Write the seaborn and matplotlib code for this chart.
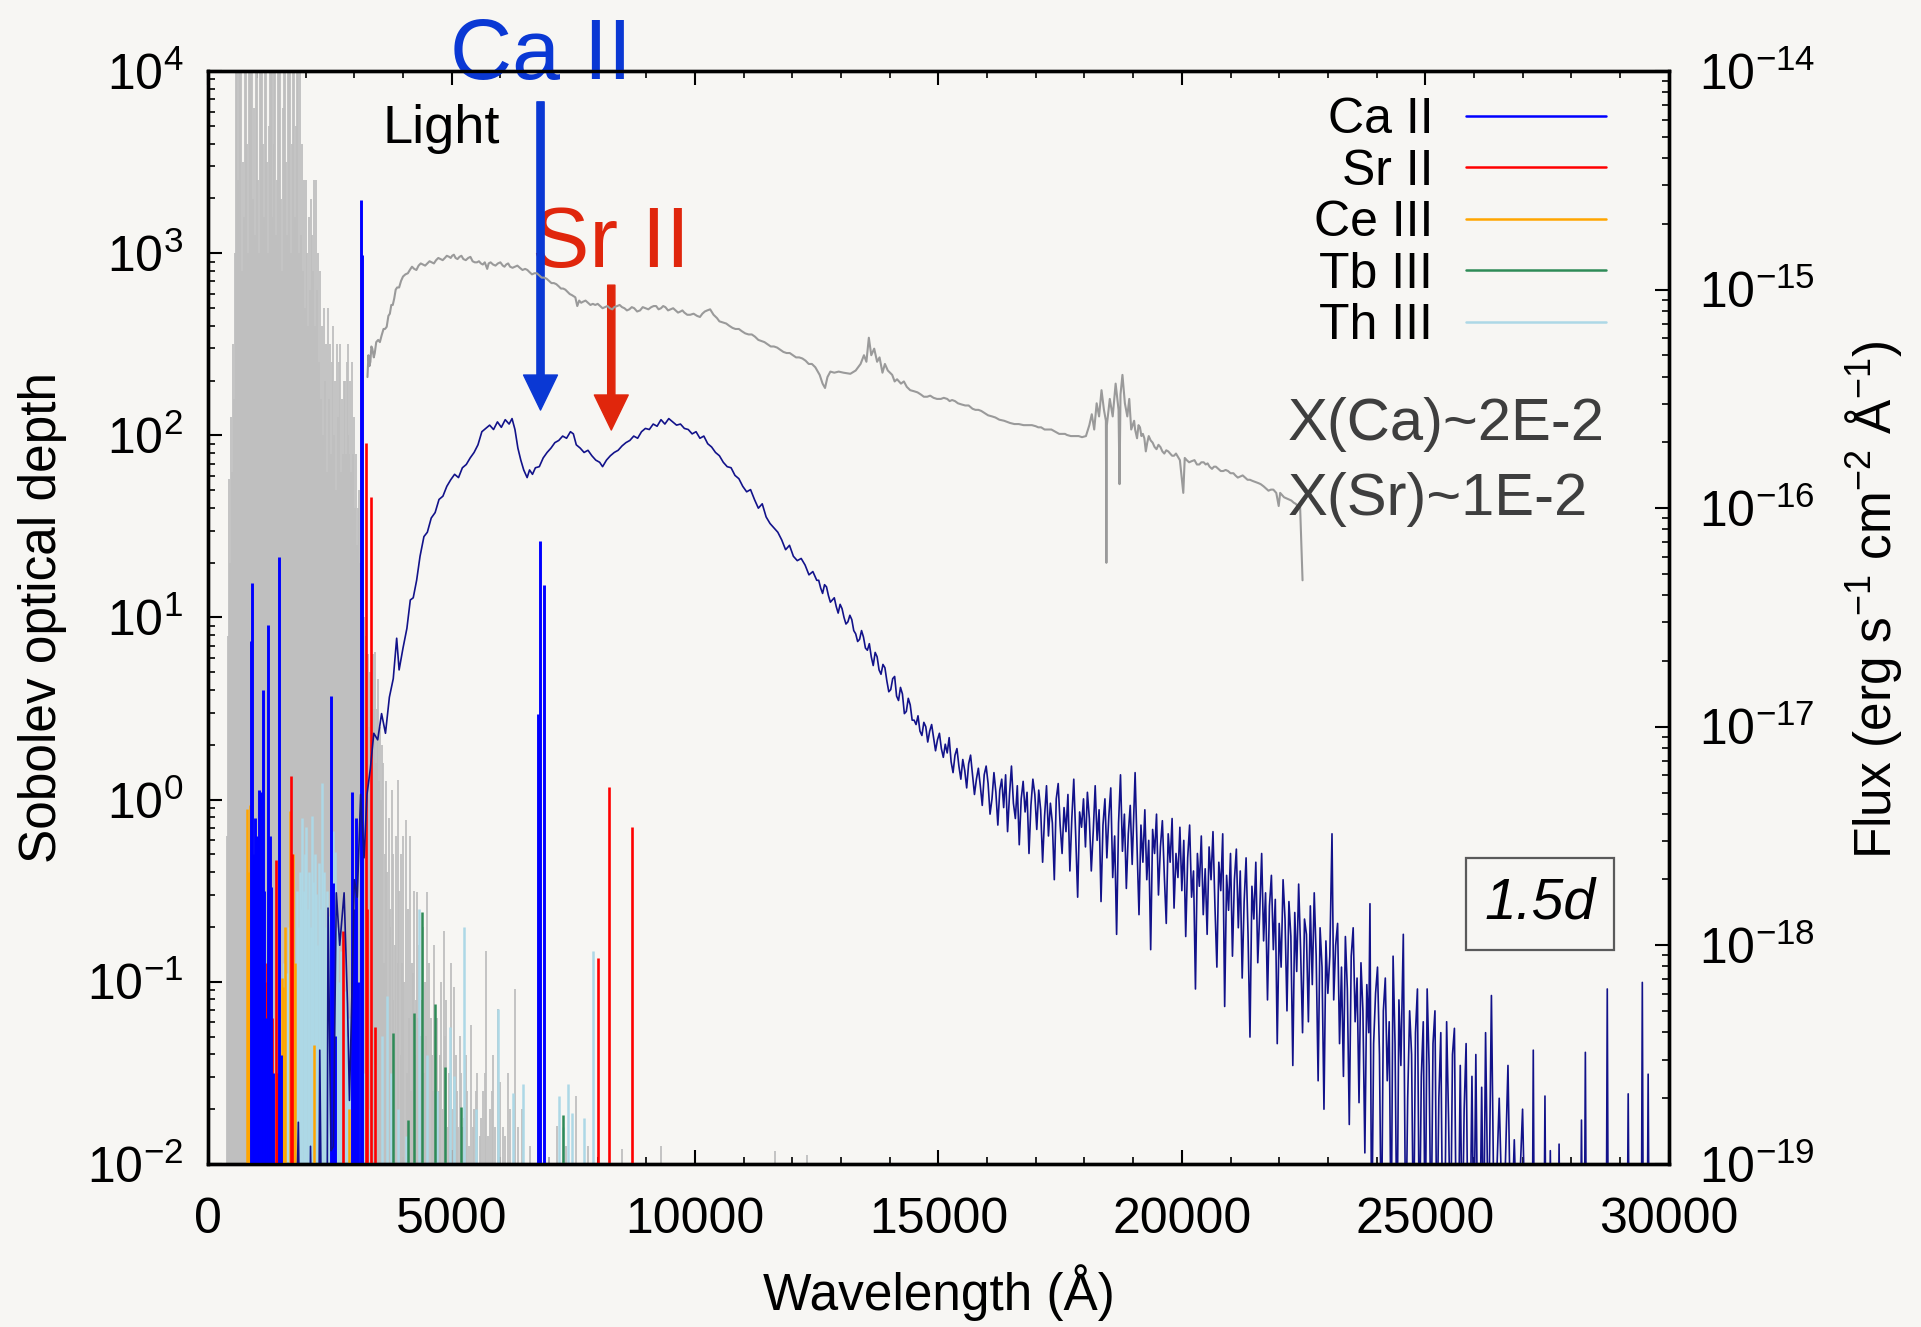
import numpy as np
import pandas as pd
import matplotlib
matplotlib.use("Agg")
import matplotlib.pyplot as plt
import seaborn as sns
from matplotlib.ticker import MultipleLocator, LogLocator, NullFormatter, FixedLocator
from matplotlib.lines import Line2D

# ---------------- data ----------------
# All-line Sobolev optical depths (grey forest): (wavelength [A], log10 tau)
GRAY_LINES = [
    (380, -0.2), (400, 0.9), (420, 1.76), (440, 1.3), (460, 2.1), (480, 1.8), (500, 2.5), (520, 2.2),
    (540, 3.0), (560, 4.5), (580, 4.5), (600, 3.1), (620, 3.4), (640, 4.5), (660, 4.5), (680, 4.5),
    (700, 2.9), (720, 3.5), (740, 3.2), (760, 4.5), (780, 4.5), (800, 3.6), (820, 3.0), (840, 4.5),
    (860, 4.5), (880, 4.5), (900, 4.5), (920, 3.3), (940, 3.8), (960, 3.1), (980, 4.5), (1000, 4.5),
    (1020, 3.4), (1040, 3.0), (1060, 4.5), (1080, 4.5), (1100, 4.5), (1120, 3.6), (1140, 3.2),
    (1160, 4.5), (1180, 4.5), (1200, 3.5), (1220, 3.0), (1240, 3.7), (1260, 4.5), (1280, 4.5),
    (1300, 4.5), (1320, 3.2), (1340, 3.6), (1360, 4.5), (1380, 4.5), (1400, 3.1), (1420, 3.4),
    (1440, 4.5), (1460, 4.5), (1480, 4.5), (1500, 3.3), (1520, 2.9), (1540, 3.8), (1560, 4.5),
    (1580, 4.5), (1600, 3.5), (1620, 3.1), (1640, 4.5), (1660, 4.5), (1680, 4.5), (1700, 3.0),
    (1720, 3.6), (1740, 4.5), (1760, 4.5), (1780, 3.2), (1800, 3.7), (1820, 4.5), (1840, 4.5),
    (1860, 3.0), (1880, 4.3), (1900, 3.1), (1920, 3.6), (1940, 2.9), (1960, 3.4), (1980, 2.7),
    (2000, 3.4), (2020, 3.0), (2040, 2.6), (2060, 3.2), (2080, 2.8), (2100, 3.3), (2120, 2.5),
    (2140, 3.1), (2160, 2.9), (2180, 3.4), (2200, 2.6), (2220, 3.4), (2240, 2.8), (2260, 3.0),
    (2280, 2.4), (2300, 2.9), (2320, 2.2), (2340, 2.6), (2360, 2.0), (2380, 2.7), (2400, 2.3),
    (2420, 2.5), (2440, 1.8), (2460, 2.7), (2480, 2.2), (2500, 2.5), (2520, 1.9), (2540, 2.4),
    (2560, 2.6), (2580, 2.0), (2600, 2.3), (2620, 1.7), (2640, 2.5), (2660, 2.1), (2680, 2.4),
    (2700, 2.5), (2720, 1.8), (2740, 2.2), (2760, 1.9), (2780, 2.3), (2800, 2.3), (2820, 1.9),
    (2840, 2.4), (2860, 2.0), (2880, 2.5), (2900, 1.9), (2920, 2.3), (2940, 1.8), (2960, 2.4),
    (2980, 1.9), (3000, 2.1), (3020, 1.6), (3040, 1.9), (3060, 1.4), (3080, 1.6), (3100, 1.7),
    (3120, 1.3), (3140, 1.1), (3160, 1.3), (3180, 0.8), (3200, 1.0), (3220, 0.6), (3240, 0.9),
    (3260, 0.5), (3280, 0.8), (3300, 0.4), (3320, 0.7), (3340, 0.3), (3360, 0.6), (3380, 0.8),
    (3400, 0.5), (3420, 0.81), (3440, 0.2), (3460, 0.5), (3480, 0.66), (3500, 0.1), (3520, 0.4),
    (3540, 0.0), (3560, 0.3), (3590, 0.2), (3620, -0.3), (3650, 0.1), (3680, -0.4), (3710, -0.1),
    (3740, -0.6), (3770, 0.05), (3800, -0.3), (3830, -0.8), (3860, -0.2), (3890, 0.11),
    (3920, -0.5), (3950, -0.3), (3980, -0.9), (4010, -0.2), (4060, -0.11), (4100, -0.6),
    (4140, -0.2), (4180, -0.9), (4220, -0.5), (4260, -1.1), (4290, -0.51), (4330, -0.8),
    (4370, -1.3), (4410, -0.7), (4450, -1.0), (4500, -0.51), (4540, -0.9), (4590, -1.4),
    (4640, -0.8), (4690, -1.2), (4740, -1.6), (4790, -1.0), (4840, -0.72), (4890, -1.1),
    (4940, -1.5), (4990, -0.9), (5050, -1.03), (5110, -1.6), (5170, -1.3), (5230, -1.8),
    (5290, -1.4), (5350, -1.9), (5400, -1.24), (5460, -1.7), (5520, -1.5), (5580, -1.85),
    (5640, -1.6), (5710, -0.83), (5780, -1.7), (5850, -1.4), (5950, -1.15), (6050, -1.8),
    (6150, -1.5), (6300, -1.04), (6450, -1.7), (6600, -1.9), (6800, -1.85), (7000, -1.96),
    (7170, -1.79), (7350, -1.9), (7560, -1.63), (7800, -1.9), (8500, -1.92), (9300, -1.9),
    (11650, -1.93), (12300, -1.95),
    (3515, -0.8), (3605, -0.9), (3665, -1.2), (3725, -0.7), (3785, -1.1), (3845, -1.3), (3905, -0.9),
    (3965, -1.4), (4030, -1.0), (4080, -1.5), (4120, -1.2), (4160, -1.6), (4200, -0.95), (4240, -1.4),
    (4310, -1.2), (4350, -1.6), (4390, -1.1), (4430, -1.5), (4470, -1.3), (4520, -1.7), (4565, -1.2),
    (4615, -1.6), (4665, -1.3), (4715, -1.8), (4765, -1.4), (4815, -1.7), (4865, -1.3), (4915, -1.8),
    (4965, -1.5), (5020, -1.7), (5080, -1.4), (5140, -1.8), (5200, -1.5), (5260, -1.75), (5320, -1.6),
    (5430, -1.8), (5490, -1.6), (5610, -1.75), (5680, -1.5), (5750, -1.85), (5820, -1.6), (5900, -1.8),
    (6000, -1.55), (6100, -1.85), (6200, -1.7), (6370, -1.8),
]

# Ion lines: (wavelength [A], log10 tau)
CA_II = [
    (885, 0.87), (900, 1.19), (940, -0.3), (960, -0.1), (985, -0.25), (1010, -0.2), (1040, 0.05),
    (1060, -0.15), (1090, 0.04), (1120, 0.6), (1150, -0.5), (1180, -1.2), (1230, 0.96),
    (1260, -0.2), (1290, -0.48), (1320, -1.5), (1460, 1.33), (1490, -1.4), (2530, 0.57),
    (2560, -0.46), (2600, -1.3), (2960, 0.04), (3000, -0.6), (3040, -0.10), (3080, -1.0),
    (3130, 3.29), (3155, 2.99), (6780, 0.47), (6815, 1.42), (6900, 1.18),
]
SR_II = [
    (1130, -1.44), (1160, -1.0), (1200, -0.9), (1240, -1.3), (1270, -0.66), (1300, -1.2),
    (1390, -0.33), (1420, -1.5), (1700, 0.13), (1720, -0.3), (2770, -0.72), (3230, 1.96),
    (3260, -0.6), (3345, 1.66), (3420, -1.25), (8000, -0.87), (8230, 0.07), (8700, -0.15),
]
CE_III = [
    (800, -0.05), (820, -0.8), (840, -0.4), (860, -0.03), (880, -1.2), (1510, -0.98),
    (1540, -1.03), (1570, -0.7), (1680, -0.06), (1710, -0.5), (1750, -0.3), (1780, -0.9),
    (2180, -1.35), (2900, -1.7),
]
TB_III = [
    (3800, -1.28), (4100, -1.76), (4230, -1.17), (4390, -0.62), (4660, -1.12), (4860, -1.47),
    (5200, -1.69), (7290, -1.73),
]
TH_III = [
    (940, -1.5), (980, -1.8), (1010, -1.3), (1060, -1.7), (1180, -1.4), (1300, -1.6), (1400, -1.7),
    (1450, -1.81), (1500, -1.2), (1560, -0.9), (1600, -1.1), (1620, -0.95), (1650, -0.7),
    (1680, -1.0), (1720, -0.85), (1750, -0.6), (1780, -0.9), (1820, -0.5), (1850, -0.7),
    (1880, -0.4), (1910, -0.6), (1930, -0.10), (1960, -0.5), (1990, -0.3), (2010, -0.15),
    (2040, -0.6), (2070, -0.4), (2100, -0.7), (2130, -0.09), (2160, -0.45), (2190, -0.3),
    (2210, -0.52), (2240, -0.8), (2270, -0.35), (2300, -0.6), (2340, 0.09), (2370, -0.4),
    (2400, -0.7), (2430, -0.5), (2460, -0.64), (2490, -0.9), (2520, -0.6), (2570, -0.17),
    (2610, -0.29), (2650, -0.7), (2690, -1.0), (2730, -0.83), (2770, -1.1), (2810, -1.05),
    (2850, -1.3), (2900, -1.2), (2950, -1.5), (3000, -1.4), (3100, -1.6), (3200, -1.5),
    (3300, -1.7), (3420, -1.45), (3560, -1.3), (3680, -1.08), (3760, -1.5), (3900, -1.7),
    (4060, -1.85), (4330, -0.60), (4500, -1.4), (4700, -1.6), (4970, -1.25), (5050, -1.52),
    (5250, -0.70), (5500, -1.7), (5950, -1.15), (6270, -1.61), (6460, -1.56), (7210, -1.63),
    (7290, -1.8), (7390, -1.56), (7470, -1.72), (7720, -1.75), (7910, -0.83),
]

# Model spectrum (navy): (wavelength [A], log10 flux) -- blue/optical part
MODEL_SPEC = [
    (1800, -19.4), (1850, -18.81), (1880, -19.4), (2080, -19.4), (2100, -18.92), (2130, -19.4),
    (2270, -19.4), (2290, -18.48), (2330, -19.4), (2440, -19.4), (2460, -17.83), (2520, -18.94),
    (2570, -18.92), (2630, -17.76), (2700, -18.00), (2790, -17.76), (2860, -18.27), (2900, -18.71),
    (2960, -18.13), (3000, -17.70), (3060, -17.78), (3130, -17.31), (3200, -17.60), (3260, -17.31),
    (3330, -17.19), (3400, -17.03), (3480, -17.06), (3560, -16.94), (3640, -17.03), (3720, -16.865),
    (3800, -16.78), (3870, -16.595), (3920, -16.74), (4000, -16.64), (4080, -16.55), (4150, -16.42),
    (4210, -16.41), (4280, -16.33), (4350, -16.22), (4430, -16.13), (4500, -16.11), (4580, -16.045),
    (4660, -16.02), (4740, -15.96), (4820, -15.945), (4900, -15.90), (4980, -15.87), (5060, -15.845),
    (5140, -15.86), (5220, -15.815), (5300, -15.80), (5380, -15.77), (5460, -15.745), (5540, -15.71),
    (5620, -15.65), (5700, -15.635), (5780, -15.62), (5860, -15.64), (5940, -15.605), (6020, -15.63),
    (6100, -15.595), (6180, -15.615), (6240, -15.59), (6300, -15.64), (6360, -15.725), (6420, -15.78),
    (6480, -15.825), (6550, -15.86), (6600, -15.825), (6660, -15.845), (6720, -15.815), (6800, -15.81),
    (6880, -15.77), (6960, -15.745), (7040, -15.725), (7120, -15.70), (7200, -15.69), (7280, -15.67),
    (7360, -15.68), (7440, -15.65), (7500, -15.66), (7560, -15.71), (7640, -15.725), (7720, -15.745),
    (7800, -15.735), (7880, -15.76), (7960, -15.78), (8040, -15.79), (8100, -15.81), (8180, -15.78),
    (8260, -15.76), (8340, -15.745), (8420, -15.735), (8500, -15.715), (8580, -15.70), (8660, -15.69),
    (8740, -15.67), (8820, -15.68), (8900, -15.65), (8980, -15.635), (9060, -15.64), (9140, -15.615),
    (9220, -15.625), (9300, -15.595), (9380, -15.615), (9460, -15.59), (9540, -15.605), (9620, -15.62),
    (9700, -15.615), (9780, -15.635), (9860, -15.64), (9940, -15.66), (10020, -15.65), (10100, -15.68),
    (10180, -15.67), (10260, -15.705), (10340, -15.72), (10420, -15.745), (10500, -15.76),
    (10580, -15.79), (10660, -15.81), (10740, -15.815), (10820, -15.85), (10900, -15.865),
    (10980, -15.90), (11060, -15.925), (11140, -15.915), (11220, -15.96), (11300, -16.00),
    (11380, -15.98), (11460, -16.04), (11540, -16.07), (11620, -16.09), (11700, -16.11),
    (11780, -16.145), (11860, -16.19), (11940, -16.17), (12020, -16.22), (12100, -16.24),
    (12180, -16.23), (12260, -16.26), (12340, -16.305), (12420, -16.29), (12500, -16.33),
    (12540, -16.33), (12580, -16.365), (12620, -16.39), (12660, -16.35), (12700, -16.36),
    (12740, -16.40), (12780, -16.43), (12820, -16.42), (12860, -16.41), (12900, -16.45),
    (12940, -16.48), (12980, -16.44), (13020, -16.46), (13060, -16.50), (13100, -16.53),
    (13140, -16.52), (13180, -16.49), (13220, -16.51), (13260, -16.56), (13300, -16.575),
    (13340, -16.61), (13380, -16.60), (13420, -16.56), (13460, -16.59), (13500, -16.64),
    (13540, -16.65), (13580, -16.62), (13620, -16.68), (13660, -16.72), (13700, -16.66),
    (13740, -16.68), (13780, -16.74), (13820, -16.76), (13860, -16.715), (13900, -16.73),
    (13940, -16.79), (13980, -16.84), (14020, -16.83), (14060, -16.78), (14100, -16.77),
    (14140, -16.86), (14180, -16.88), (14220, -16.82), (14260, -16.85), (14300, -16.94),
    (14340, -16.93), (14380, -16.87), (14420, -16.90), (14460, -16.97),
]
# Model spectrum, noisy near-infrared part (densely sampled)
MODEL_SPEC_NIR = [
    (14500, -16.97), (14540, -16.99), (14580, -16.95), (14620, -17.02), (14660, -17.04),
    (14700, -16.98), (14740, -17.00), (14780, -17.07), (14820, -17.02), (14860, -16.99),
    (14900, -17.05), (14940, -17.11), (14980, -17.06), (15020, -17.03), (15060, -17.10),
    (15100, -17.14), (15140, -17.08), (15180, -17.12), (15220, -17.05), (15260, -17.16),
    (15300, -17.21), (15340, -17.13), (15380, -17.10), (15420, -17.18), (15460, -17.24),
    (15500, -17.15), (15540, -17.20), (15580, -17.28), (15620, -17.17), (15660, -17.13),
    (15700, -17.22), (15740, -17.31), (15780, -17.24), (15820, -17.19), (15860, -17.27),
    (15900, -17.36), (15940, -17.22), (15980, -17.18), (16020, -17.26), (16060, -17.40),
    (16100, -17.33), (16140, -17.21), (16180, -17.30), (16220, -17.45), (16260, -17.29),
    (16300, -17.24), (16340, -17.37), (16380, -17.22), (16420, -17.48), (16460, -17.31),
    (16500, -17.18), (16540, -17.35), (16580, -17.42), (16620, -17.27), (16660, -17.54),
    (16700, -17.33), (16740, -17.25), (16780, -17.39), (16820, -17.30), (16860, -17.58),
    (16900, -17.36), (16940, -17.24), (16980, -17.31), (17020, -17.47), (17060, -17.29),
    (17100, -17.38), (17140, -17.62), (17180, -17.41), (17220, -17.27), (17260, -17.50),
    (17300, -17.35), (17340, -17.44), (17380, -17.70), (17420, -17.33), (17460, -17.26),
    (17500, -17.45), (17540, -17.58), (17580, -17.37), (17620, -17.48), (17660, -17.31),
    (17700, -17.66), (17740, -17.42), (17780, -17.24), (17820, -17.50), (17860, -17.78),
    (17900, -17.39), (17940, -17.46), (17980, -17.33), (18020, -17.55), (18060, -17.30),
    (18100, -17.42), (18140, -17.66), (18180, -17.48), (18220, -17.27), (18260, -17.52),
    (18300, -17.38), (18340, -17.80), (18380, -17.45), (18420, -17.33), (18460, -17.60),
    (18500, -17.41), (18540, -17.28), (18580, -17.69), (18620, -17.50), (18660, -17.95),
    (18700, -17.44), (18740, -17.22), (18780, -17.57), (18820, -17.40), (18860, -17.74),
    (18900, -17.49), (18940, -17.36), (18980, -17.63), (19040, -17.21), (19080, -17.55),
    (19120, -17.86), (19160, -17.45), (19200, -17.62), (19240, -17.38), (19280, -17.70),
    (19320, -17.52), (19360, -18.02), (19400, -17.47), (19440, -17.58), (19480, -17.40),
    (19520, -17.77), (19560, -17.55), (19600, -17.43), (19640, -17.68), (19680, -17.90),
    (19720, -17.49), (19760, -17.62), (19800, -17.42), (19840, -17.83), (19880, -17.58),
    (19920, -17.69), (19960, -17.46), (20000, -17.75), (20040, -17.52), (20080, -17.96),
    (20120, -17.60), (20160, -17.45), (20200, -17.78), (20240, -17.66), (20280, -18.20),
    (20320, -17.58), (20360, -17.73), (20400, -17.50), (20440, -17.86), (20480, -17.65),
    (20520, -17.95), (20560, -17.55), (20600, -17.70), (20640, -17.48), (20680, -17.82),
    (20720, -18.10), (20760, -17.62), (20800, -17.75), (20840, -17.49), (20880, -18.28),
    (20920, -17.68), (20960, -17.84), (21000, -17.58), (21040, -18.05), (21080, -17.70),
    (21120, -17.56), (21160, -17.92), (21200, -17.66), (21240, -18.15), (21280, -17.80),
    (21320, -17.60), (21360, -17.95), (21400, -18.42), (21440, -17.73), (21480, -17.88),
    (21520, -17.62), (21560, -18.08), (21600, -17.85), (21640, -17.58), (21680, -17.98),
    (21720, -17.76), (21760, -18.25), (21800, -17.82), (21840, -17.68), (21880, -18.02),
    (21920, -17.79), (21960, -18.45), (22000, -17.90), (22040, -18.10), (22080, -17.70),
    (22120, -17.88), (22160, -18.30), (22200, -17.80), (22240, -17.96), (22280, -18.55),
    (22320, -17.85), (22360, -18.12), (22400, -17.72), (22440, -18.02), (22480, -18.40),
    (22520, -17.88), (22560, -17.95), (22600, -18.35), (22640, -17.82), (22680, -18.18),
    (22720, -17.76), (22760, -18.05), (22800, -18.62), (22840, -17.92), (22880, -18.10),
    (22920, -18.75), (22960, -17.98), (23000, -18.22), (23040, -18.05), (23085, -17.49),
    (23120, -18.25), (23160, -18.00), (23200, -17.90), (23240, -18.45), (23280, -18.10),
    (23320, -18.60), (23360, -17.96), (23400, -18.20), (23440, -18.82), (23480, -18.05),
    (23520, -17.92), (23560, -18.35), (23600, -18.15), (23640, -18.72), (23680, -18.08),
    (23720, -18.30), (23760, -18.95), (23800, -18.18), (23840, -18.40), (23865, -17.81),
    (23900, -19.4), (23940, -18.45), (23980, -18.22), (24020, -18.10), (24060, -18.50),
    (24100, -19.4), (24140, -18.30), (24180, -18.15), (24220, -18.62), (24260, -18.35),
    (24300, -19.4), (24340, -18.05), (24380, -18.45), (24420, -19.4), (24460, -18.25),
    (24500, -18.55), (24550, -17.95), (24600, -19.4), (24640, -18.70), (24680, -18.30),
    (24720, -18.50), (24760, -19.4), (24800, -18.40), (24840, -18.20), (24880, -19.4),
    (24920, -18.60), (24960, -18.35), (25000, -19.4), (25040, -18.20), (25080, -18.55),
    (25120, -19.4), (25160, -18.45), (25200, -18.30), (25240, -19.4), (25280, -18.70),
    (25320, -18.40), (25360, -19.4), (25400, -19.4), (25440, -18.35), (25480, -18.80),
    (25520, -19.4), (25560, -18.50), (25600, -18.38), (25640, -19.4), (25680, -19.4),
    (25720, -18.55), (25760, -19.4), (25800, -18.75), (25840, -18.45), (25880, -19.4),
    (25920, -19.4), (25960, -18.60), (26000, -19.4), (26040, -18.50), (26080, -19.4),
    (26120, -19.4), (26160, -18.65), (26200, -19.4), (26240, -18.40), (26300, -19.4),
    (26360, -18.23), (26420, -19.4), (26520, -18.70), (26600, -19.4), (26700, -18.55),
    (26760, -19.4), (26830, -18.89), (26890, -19.4), (27000, -18.75), (27060, -19.4),
    (27200, -19.4), (27220, -18.48), (27240, -19.4), (27440, -19.4), (27460, -18.69),
    (27480, -19.4), (27550, -19.4), (27570, -18.94), (27590, -19.4), (27730, -19.4),
    (27750, -18.91), (27770, -19.4), (28190, -19.4), (28210, -18.80), (28230, -19.4),
    (28270, -19.4), (28290, -18.49), (28310, -19.4), (28720, -19.4), (28740, -18.20),
    (28760, -19.4), (29150, -19.4), (29170, -18.68), (29190, -19.4), (29440, -19.4),
    (29460, -18.17), (29480, -19.4), (29560, -19.4), (29580, -18.59), (29600, -19.4),
    (29800, -19.4),
]

# Observed spectrum (grey): (wavelength [A], log10 flux)
OBS_SPEC = [
    (3270, -15.40), (3290, -15.30), (3330, -15.33), (3370, -15.27), (3420, -15.29), (3490, -15.23),
    (3560, -15.21), (3630, -15.18), (3700, -15.12), (3760, -15.07), (3820, -15.04), (3880, -14.99),
    (3960, -14.96), (4050, -14.93), (4140, -14.91), (4230, -14.905), (4320, -14.89), (4410, -14.885),
    (4500, -14.88), (4590, -14.875), (4680, -14.865), (4770, -14.86), (4860, -14.855), (4950, -14.85),
    (5010, -14.845), (5080, -14.855), (5160, -14.85), (5240, -14.86), (5340, -14.855), (5430, -14.87),
    (5520, -14.875), (5600, -14.88), (5680, -14.875), (5730, -14.905), (5760, -14.88), (5850, -14.885),
    (5950, -14.88), (6050, -14.89), (6120, -14.885), (6200, -14.895), (6300, -14.895), (6400, -14.90),
    (6510, -14.905), (6600, -14.92), (6700, -14.925), (6800, -14.935), (6900, -14.945), (7000, -14.96),
    (7100, -14.97), (7200, -14.985), (7290, -14.995), (7380, -15.01), (7470, -15.025), (7540, -15.035),
    (7580, -15.075), (7620, -15.05), (7700, -15.055), (7800, -15.06), (7900, -15.065), (7950, -15.07),
    (8050, -15.075), (8150, -15.08), (8250, -15.085), (8340, -15.08), (8450, -15.07), (8550, -15.085),
    (8650, -15.09), (8750, -15.085), (8870, -15.095), (8980, -15.085), (9100, -15.08), (9200, -15.075),
    (9300, -15.085), (9390, -15.08), (9500, -15.09), (9600, -15.095), (9700, -15.10), (9780, -15.105),
    (9900, -15.115), (10040, -15.12), (10150, -15.11), (10250, -15.095), (10310, -15.09),
    (10380, -15.115), (10450, -15.13), (10570, -15.15), (10700, -15.165), (10830, -15.18),
    (10960, -15.19), (11100, -15.205), (11230, -15.215), (11360, -15.235), (11490, -15.25),
    (11620, -15.26), (11750, -15.275), (11880, -15.29), (12010, -15.30), (12140, -15.31),
    (12270, -15.325), (12400, -15.34), (12470, -15.355), (12560, -15.39), (12620, -15.43),
    (12670, -15.45), (12720, -15.40), (12780, -15.375), (12860, -15.38), (12950, -15.375),
    (13050, -15.38), (13190, -15.385), (13300, -15.37), (13400, -15.34), (13470, -15.30),
    (13520, -15.33), (13570, -15.22), (13620, -15.30), (13680, -15.27), (13740, -15.33),
    (13790, -15.31), (13850, -15.38), (13900, -15.34), (13960, -15.37), (14050, -15.39),
    (14150, -15.41), (14230, -15.43), (14350, -15.445), (14500, -15.465), (14640, -15.48),
    (14770, -15.49), (14900, -15.495), (15050, -15.50), (15180, -15.50), (15280, -15.505),
    (15400, -15.52), (15550, -15.53), (15700, -15.545), (15820, -15.55), (15950, -15.565),
    (16100, -15.58), (16250, -15.595), (16470, -15.61), (16650, -15.615), (16850, -15.62),
    (17000, -15.625), (17110, -15.63), (17250, -15.64), (17400, -15.65), (17550, -15.66),
    (17640, -15.665), (17800, -15.67), (17950, -15.675), (18030, -15.67), (18100, -15.62),
    (18150, -15.57), (18200, -15.64), (18250, -15.52), (18300, -15.58), (18350, -15.46),
    (18400, -15.55), (18440, -15.60), (18450, -16.25), (18460, -15.62), (18520, -15.50),
    (18580, -15.58), (18640, -15.43), (18700, -15.55), (18720, -15.89), (18740, -15.48),
    (18780, -15.39), (18830, -15.52), (18880, -15.58), (18920, -15.50), (18960, -15.64),
    (19020, -15.60), (19080, -15.68), (19140, -15.63), (19200, -15.66), (19260, -15.74),
    (19320, -15.67), (19400, -15.70), (19480, -15.73), (19560, -15.72), (19640, -15.75),
    (19720, -15.74), (19800, -15.76), (19880, -15.75), (19960, -15.78), (20030, -15.93),
    (20060, -15.77), (20150, -15.79), (20260, -15.78), (20360, -15.80), (20450, -15.79),
    (20530, -15.795), (20620, -15.82), (20700, -15.81), (20800, -15.83), (20900, -15.825),
    (21000, -15.84), (21060, -15.84), (21150, -15.86), (21250, -15.85), (21350, -15.87),
    (21450, -15.875), (21570, -15.885), (21680, -15.90), (21780, -15.92), (21880, -15.915),
    (21990, -15.99), (22020, -15.93), (22100, -15.95), (22200, -15.96), (22300, -15.975),
    (22380, -15.99), (22430, -15.995), (22480, -16.33),
]
OBS_SPEC_FINE = [
    (3310, -15.35), (3350, -15.26), (3400, -15.31), (3450, -15.24), (3525, -15.24), (3600, -15.18),
    (3665, -15.17), (3730, -15.11), (3790, -15.07), (3850, -15.00), (3920, -14.99), (4000, -14.94),
    (4100, -14.925), (4185, -14.895), (4275, -14.91), (4365, -14.88), (4455, -14.89), (4545, -14.87),
    (4635, -14.88), (4725, -14.855), (4815, -14.865), (4900, -14.845), (4980, -14.855),
    (5045, -14.84), (5120, -14.86), (5200, -14.845), (5290, -14.865), (5385, -14.85),
    (5475, -14.875), (5560, -14.87), (5640, -14.885), (5800, -14.875), (5900, -14.89),
    (6000, -14.875), (6085, -14.895), (6160, -14.88), (6250, -14.90), (6350, -14.89),
    (6455, -14.91), (6555, -14.91), (6650, -14.93), (6750, -14.925), (6850, -14.945),
    (6950, -14.95), (7050, -14.97), (7150, -14.975), (7245, -14.995), (7335, -15.00),
    (7425, -15.02), (7505, -15.03), (7660, -15.06), (7750, -15.05), (7850, -15.07),
    (8000, -15.065), (8100, -15.085), (8200, -15.075), (8300, -15.09), (8400, -15.075),
    (8500, -15.08), (8600, -15.095), (8700, -15.08), (8810, -15.10), (8925, -15.08),
    (9040, -15.09), (9150, -15.075), (9250, -15.09), (9345, -15.075), (9445, -15.095),
    (9550, -15.085), (9650, -15.105), (9740, -15.095), (9840, -15.115), (9970, -15.11),
    (10100, -15.125), (10200, -15.10), (10500, -15.145), (10640, -15.155), (10770, -15.175),
    (10900, -15.18), (11030, -15.20), (11165, -15.205), (11300, -15.23), (11425, -15.24),
    (11555, -15.26), (11685, -15.265), (11815, -15.285), (11945, -15.29), (12075, -15.31),
    (12205, -15.315), (12335, -15.34), (14100, -15.42), (14290, -15.42), (14420, -15.46),
    (14570, -15.47), (14700, -15.49), (14830, -15.485), (14970, -15.50), (15110, -15.495),
    (15230, -15.51), (15340, -15.51), (15470, -15.525), (15620, -15.53), (15760, -15.55),
    (15880, -15.555), (16020, -15.575), (16170, -15.585), (16350, -15.60), (16560, -15.615),
    (16750, -15.62), (16920, -15.62), (17050, -15.63), (17180, -15.64), (17320, -15.64),
    (17480, -15.66), (17600, -15.66), (17720, -15.67), (17880, -15.67), (19040, -15.64),
    (19110, -15.62), (19170, -15.67), (19230, -15.68), (19290, -15.70), (19360, -15.69),
    (19440, -15.72), (19520, -15.71), (19600, -15.74), (19680, -15.735), (19760, -15.75),
    (19840, -15.76), (19920, -15.765), (20100, -15.78), (20200, -15.785), (20310, -15.80),
    (20400, -15.79), (20490, -15.80), (20570, -15.81), (20660, -15.81), (20750, -15.82),
    (20850, -15.83), (20950, -15.83), (21100, -15.85), (21200, -15.855), (21300, -15.86),
    (21400, -15.87), (21510, -15.88), (21620, -15.89), (21730, -15.91), (21830, -15.915),
    (21940, -15.93), (22060, -15.94), (22150, -15.955), (22250, -15.965), (22340, -15.98),
]

LEGEND_LABELS = ["Ca II", "Sr II", "Ce III", "Tb III", "Th III"]
ION_COLORS = ["#0000ff", "#ff0000", "#ffa500", "#2e8b57", "#add8e6"]
X_TICKS = [0, 5000, 10000, 15000, 20000, 25000, 30000]
TAU_TICKS = [1e-2, 1e-1, 1e0, 1e1, 1e2, 1e3, 1e4]
FLUX_TICKS = [1e-19, 1e-18, 1e-17, 1e-16, 1e-15, 1e-14]

# ---------------- style ----------------
BG = "#f7f6f3"
sns.set_theme(style="ticks")
plt.rcParams["font.family"] = ["Liberation Sans", "DejaVu Sans"]
plt.rcParams["mathtext.fontset"] = "custom"
plt.rcParams["mathtext.rm"] = "Liberation Sans"
plt.rcParams["mathtext.it"] = "Liberation Sans:italic"
plt.rcParams["mathtext.default"] = "regular"
plt.rcParams["axes.edgecolor"] = "black"
plt.rcParams["xtick.color"] = "black"
plt.rcParams["ytick.color"] = "black"
plt.rcParams["text.color"] = "black"
plt.rcParams["axes.labelcolor"] = "black"

fig = plt.figure(figsize=(19.21, 13.27), dpi=100, facecolor=BG)
ax = fig.add_axes([0.10843, 0.12298, 0.76018, 0.82343])
ax.set_facecolor(BG)
ax.set_yscale("log")
ax.set_xlim(0, 30000)
ax.set_ylim(1e-2, 1e4)


def impulses(pairs, color, lw, z):
    wl = [p[0] for p in pairs]
    tau = [10.0 ** p[1] for p in pairs]
    ax.vlines(wl, 1e-3, tau, colors=color, linewidth=lw, zorder=z)


impulses(GRAY_LINES, "#bfbfbf", 1.3, 1)
impulses(TH_III, ION_COLORS[4], 1.8, 2)
impulses(TB_III, ION_COLORS[3], 1.8, 3)
impulses(CE_III, ION_COLORS[2], 1.8, 4)
impulses(SR_II, ION_COLORS[1], 1.9, 5)
impulses(CA_II, ION_COLORS[0], 2.1, 6)

ax2 = ax.twinx()
ax2.set_yscale("log")
ax2.set_ylim(1e-19, 1e-14)

df_obs = pd.DataFrame(sorted(OBS_SPEC + OBS_SPEC_FINE), columns=["wl", "logf"])
df_obs["flux"] = 10.0 ** df_obs["logf"]
df_mod = pd.DataFrame(sorted(MODEL_SPEC + MODEL_SPEC_NIR), columns=["wl", "logf"])
df_mod["flux"] = 10.0 ** df_mod["logf"]
sns.lineplot(data=df_obs, x="wl", y="flux", ax=ax2, color="#9a9a9a", linewidth=1.5,
             estimator=None, sort=False)
sns.lineplot(data=df_mod, x="wl", y="flux", ax=ax2, color="#12128a", linewidth=1.2,
             estimator=None, sort=False)
ax2.set_xlim(0, 30000)
ax2.set_ylim(1e-19, 1e-14)

# ---------------- axes / ticks ----------------
FS = 36
for a in (ax, ax2):
    for s in a.spines.values():
        s.set_linewidth(2.4)
        s.set_color("black")

ax.set_xticks(X_TICKS)
ax.xaxis.set_minor_locator(MultipleLocator(1000))
ax.tick_params(axis="x", which="both", direction="in", top=True, bottom=True)
ax.tick_params(axis="x", which="major", length=10, width=1.5, labelsize=FS, pad=24)
ax.tick_params(axis="x", which="minor", length=5, width=1.2)

ax.yaxis.set_major_locator(FixedLocator(TAU_TICKS))
ax2.yaxis.set_major_locator(FixedLocator(FLUX_TICKS))
for a in (ax, ax2):
    a.yaxis.set_minor_locator(LogLocator(base=10, subs=np.arange(2, 10), numticks=20))
    a.yaxis.set_minor_formatter(NullFormatter())
ax.tick_params(axis="y", which="both", direction="in", left=True, right=False)
ax.tick_params(axis="y", which="major", length=10, width=1.5, labelsize=FS, pad=18)
ax.tick_params(axis="y", which="minor", length=5, width=1.2)
ax2.tick_params(axis="y", which="both", direction="in", left=False, right=True)
ax2.tick_params(axis="y", which="major", length=10, width=1.5, labelsize=FS, pad=22)
ax2.tick_params(axis="y", which="minor", length=5, width=1.2)
ax.set_ylim(1e-2, 1e4)
ax2.set_ylim(1e-19, 1e-14)

ax.set_xlabel("Wavelength (Å)", fontsize=37)
ax.xaxis.set_label_coords(0.5, -0.118)
ax.xaxis.label.set_va("center")
ax.set_ylabel("Sobolev optical depth", fontsize=37)
ax.yaxis.set_label_coords(-0.1132, 0.5)
ax.yaxis.label.set_va("center")
ax2.set_ylabel(r"Flux (erg s$^{-1}$ cm$^{-2}$ Å$^{-1}$)", fontsize=37)
ax2.yaxis.set_label_coords(1.1406, 0.516)
ax2.yaxis.label.set_va("center")

# ---------------- legend ----------------
handles = [Line2D([], [], color=c, linewidth=1.8) for c in ION_COLORS]
leg = ax.legend(handles, LEGEND_LABELS, loc="upper right", bbox_to_anchor=(0.957, 0.976),
                frameon=False, markerfirst=False, fontsize=FS, handlelength=2.8,
                handletextpad=0.65, labelspacing=0.11, borderpad=0, borderaxespad=0)

# ---------------- annotations ----------------
CA_COL = "#0a38d4"
SR_COL = "#e0260c"
xform = ax.get_xaxis_transform()
ax.text(6825, 0.993, "Ca II", transform=xform, fontsize=62, color=CA_COL,
        ha="center", va="baseline", zorder=10, clip_on=False)
ax.text(8279, 0.821, "Sr II", transform=xform, fontsize=62, color=SR_COL,
        ha="center", va="baseline", zorder=10)
ax.text(4780, 0.9344, "Light", transform=xform, fontsize=39, color="black",
        ha="center", va="baseline", zorder=10)
ax.annotate("", xy=(6825, 137.7), xytext=(6825, 6780),
            arrowprops=dict(arrowstyle="simple,head_length=0.63,head_width=0.61,tail_width=0.13",
                            color=CA_COL, shrinkA=0, shrinkB=0, mutation_scale=40), zorder=10)
ax.annotate("", xy=(8279, 107), xytext=(8279, 668),
            arrowprops=dict(arrowstyle="simple,head_length=0.63,head_width=0.61,tail_width=0.13",
                            color=SR_COL, shrinkA=0, shrinkB=0, mutation_scale=40), zorder=10)
ax2.text(0.7394, 0.6626, "X(Ca)~2E-2", transform=ax2.transAxes, fontsize=43, color="#3e3e3e",
         ha="left", va="baseline", zorder=10)
ax2.text(0.7394, 0.594, "X(Sr)~1E-2", transform=ax2.transAxes, fontsize=43, color="#3e3e3e",
         ha="left", va="baseline", zorder=10)
ax2.text(0.912, 0.238, "1.5d", transform=ax2.transAxes, fontsize=41, style="italic",
         ha="center", va="center", zorder=10,
         bbox=dict(boxstyle="square,pad=0.33", facecolor="none", edgecolor="#5a5a5a", linewidth=1.6))

fig.savefig("out.png", dpi=100, facecolor=BG)
